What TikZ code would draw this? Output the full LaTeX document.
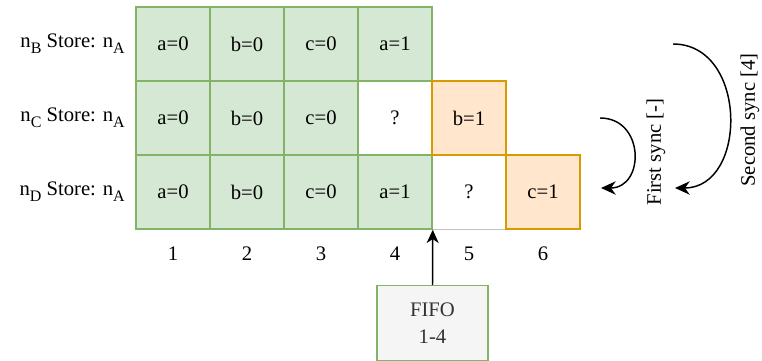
\documentclass[tikz,border=0pt]{standalone}
\usepackage{fontspec}
\setmainfont{Liberation Serif}
\usetikzlibrary{arrows.meta}
\definecolor{gfill}{HTML}{D5E8D4}
\definecolor{gline}{HTML}{82B366}
\definecolor{ofill}{HTML}{FFE6CC}
\definecolor{oline}{HTML}{D79B00}
\definecolor{bfill}{HTML}{F5F5F5}
\definecolor{btext}{HTML}{333333}
\definecolor{gray line}{HTML}{C0C0C0}
\newcommand\lowsub[1]{\raisebox{-4.5pt}{\fontsize{12}{12}\selectfont #1}}
\begin{document}
\begin{tikzpicture}[x=0.75pt,y=-0.75pt,
  font=\fontsize{15.5}{18.6}\selectfont,
  cell/.style={minimum width=55.5pt, minimum height=55.5pt, inner sep=0pt, line width=1.1pt},
  gcell/.style={cell, draw=gline, fill=gfill},
  ocell/.style={cell, draw=oline, fill=ofill},
  ecell/.style={cell},
  rowlabel/.style={anchor=east, inner sep=0pt},
  colnum/.style={inner sep=0pt},
  sync/.style={line width=1.1pt, -{Stealth[length=11pt,width=10pt,inset=3.5pt]}},
  synclabel/.style={rotate=90, inner sep=0pt}
]
\useasboundingbox (0,0) rectangle (762,360);
% empty cells
\node[ecell] (c24) at (395,118) {?};
\node[ecell] (c35) at (469,192) {?};
\draw[gray line, line width=1.1pt] (c35.south west) -- (c35.south east);
% green cells
\node[gcell] (c11) at (173,44) {a=0};
\node[gcell] (c12) at (247,44) {b=0};
\node[gcell] (c13) at (321,44) {c=0};
\node[gcell] (c14) at (395,44) {a=1};
\node[gcell] (c21) at (173,118) {a=0};
\node[gcell] (c22) at (247,118) {b=0};
\node[gcell] (c23) at (321,118) {c=0};
\node[gcell] (c31) at (173,192) {a=0};
\node[gcell] (c32) at (247,192) {b=0};
\node[gcell] (c33) at (321,192) {c=0};
\node[gcell] (c34) at (395,192) {a=1};
\draw[gline, line width=1.1pt] (c24.north west) -- (c24.south west) (c24.north west) -- (c24.north east) (c24.south west) -- (c24.south east);
% orange cells
\node[ocell] (c25) at (469,118) {b=1};
\node[ocell] (c36) at (543,192) {c=1};
% row labels
\node[rowlabel] (l1) at (125,44) {n\lowsub{B} Store: n\lowsub{A}};
\node[rowlabel] (l2) at (125,118) {n\lowsub{C} Store: n\lowsub{A}};
\node[rowlabel] (l3) at (125,192) {n\lowsub{D} Store: n\lowsub{A}};
% column numbers
\node[colnum] (n1) at (173,254) {1};
\node[colnum] (n2) at (247,254) {2};
\node[colnum] (n3) at (321,254) {3};
\node[colnum] (n4) at (395,254) {4};
\node[colnum] (n5) at (469,254) {5};
\node[colnum] (n6) at (543,254) {6};
% FIFO
\node[draw=gline, fill=bfill, text=btext, line width=1.1pt, minimum width=83pt, minimum height=56pt, align=center, anchor=north, inner sep=0pt] (fifo) at (432.5,285) {FIFO\\[2pt]1-4};
\coordinate (fifoend) at (c34.south east);
\draw[line width=1.1pt, -{Stealth[length=10pt,width=9pt,inset=3pt]}] (fifo.north) -- (fifoend);
% sync arrows
\coordinate (s1a) at (600,118);
\coordinate (s1b) at (601,188);
\coordinate (s2a) at (673,44);
\coordinate (s2b) at (675,188);
\draw[sync] (s1a) .. controls (645,118) and (645,188) .. (s1b);
\draw[sync] (s2a) .. controls (748,44) and (748,188) .. (s2b);
\node[synclabel] (t1) at (656,152) {First sync [-]};
\node[synclabel] (t2) at (750,120) {Second sync [4]};
\end{tikzpicture}
\end{document}
